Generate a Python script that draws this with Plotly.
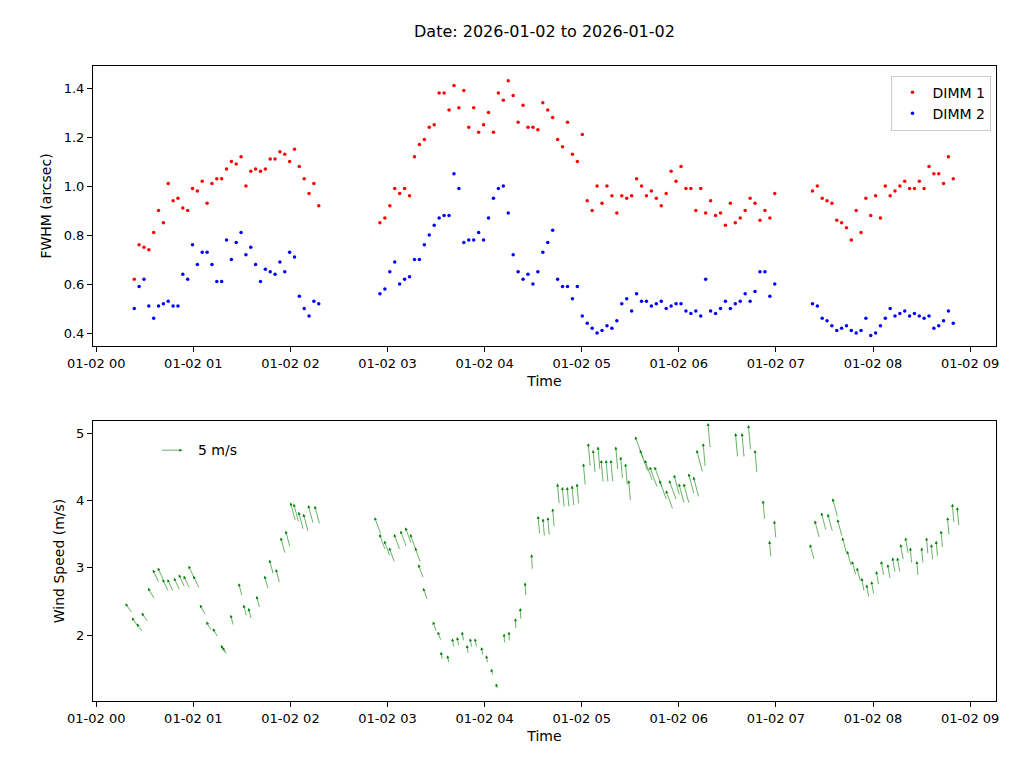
import math
import pandas as pd
import plotly.graph_objects as go

DAY = "2026-01-02"
# DIMM samples: segment start (minutes after 00:00), cadence (min), values
seg_starts = [23.5, 175.3, 442.6]
seg_steps = [3.0, 3.05, 3.0]
dimm1 = [
    [0.62,0.76,0.75,0.74,0.81,0.90,0.85,1.01,0.94,0.95,0.91,0.90,0.99,0.98,1.02,0.93,1.01,1.03,1.03,1.07,1.10,1.09,1.12,1.00,1.06,1.07,1.06,1.07,1.11,1.11,1.14,1.13,1.10,1.15,1.08,1.03,0.97,1.01,0.92],
    [0.85,0.87,0.92,0.99,0.97,0.99,0.96,1.12,1.17,1.19,1.24,1.25,1.38,1.38,1.31,1.41,1.32,1.39,1.24,1.32,1.22,1.25,1.30,1.22,1.38,1.35,1.43,1.37,1.26,1.33,1.24,1.24,1.23,1.34,1.31,1.28,1.19,1.16,1.26,1.13,1.10,1.21,
     0.94,0.90,1.00,0.93,1.00,0.96,0.89,0.96,0.95,0.96,1.03,1.00,0.96,0.98,0.95,0.92,0.97,1.06,1.02,1.08,0.99,0.99,0.90,0.99,0.89,0.94,0.88,0.89,0.84,0.93,0.85,0.87,0.90,0.95,0.93,0.86,0.90,0.87,0.97],
    [0.98,1.00,0.95,0.94,0.93,0.86,0.85,0.83,0.78,0.90,0.81,0.95,0.88,0.96,0.87,1.00,0.96,0.98,1.00,1.02,0.99,0.99,1.02,0.99,1.08,1.05,1.05,1.01,1.12,1.03],
]
dimm2 = [
    [0.50,0.59,0.62,0.51,0.46,0.51,0.52,0.53,0.51,0.51,0.64,0.62,0.76,0.68,0.73,0.73,0.68,0.61,0.61,0.78,0.70,0.77,0.81,0.72,0.75,0.68,0.61,0.66,0.65,0.64,0.69,0.65,0.73,0.71,0.55,0.50,0.47,0.53,0.52],
    [0.56,0.58,0.65,0.69,0.60,0.62,0.63,0.70,0.70,0.76,0.80,0.84,0.87,0.88,0.88,1.05,0.99,0.77,0.78,0.78,0.81,0.78,0.87,0.95,0.99,1.00,0.89,0.72,0.65,0.62,0.64,0.60,0.65,0.73,0.77,0.82,0.62,0.59,0.59,0.54,0.59,0.47,
     0.44,0.42,0.40,0.41,0.43,0.42,0.45,0.52,0.54,0.49,0.56,0.53,0.53,0.51,0.52,0.53,0.50,0.51,0.52,0.52,0.49,0.48,0.49,0.47,0.62,0.49,0.48,0.50,0.53,0.50,0.52,0.53,0.56,0.53,0.57,0.65,0.65,0.55,0.60],
    [0.52,0.51,0.46,0.45,0.43,0.41,0.42,0.43,0.41,0.40,0.41,0.46,0.39,0.40,0.43,0.46,0.50,0.47,0.48,0.49,0.47,0.48,0.47,0.46,0.47,0.42,0.43,0.45,0.49,0.44],
]
# Wind: minutes after 00:00, speed (m/s), direction (deg from up, negative = left)
wind_min = [18,22,25,28,32,35,38,41,44,48,51,54,57,60,64,68,72,77,78,83,88,91,94,99,104,107,111,114,117,120,122,125,128,131,135,
            172,175,178,181,184,188,191,194,197,199,202,208,211,213,217,220,223,226,229,231,234,238,241,244,247,252,255,259,262,265,269,273,276,279,282,285,288,291,294,297,301,304,307,310,312,315,318,321,324,327,329,333,336,339,342,345,348,352,354,357,360,363,366,369,371,375,378,381,385,389,392,395,399,403,407,412,416,419,
            441,444,448,452,455,458,461,464,467,470,473,476,479,482,485,489,492,495,497,500,503,507,510,513,516,519,522,526,529,532]
wind_spd = [2.47,2.26,2.17,2.33,2.70,2.97,3.00,2.83,2.83,2.85,2.90,2.88,3.03,2.88,2.45,2.20,2.10,1.85,1.82,2.30,2.77,2.45,2.40,2.58,2.88,3.12,2.98,3.45,3.55,3.97,3.95,3.83,3.80,3.93,3.92,
            3.75,3.50,3.40,3.30,3.50,3.55,3.60,3.50,3.30,3.05,2.70,2.20,2.05,1.75,1.70,1.95,1.97,2.05,1.85,1.95,1.95,1.82,1.70,1.50,1.28,2.02,2.05,2.25,2.40,2.78,3.20,3.77,3.73,3.75,3.88,4.25,4.20,4.20,4.22,4.25,4.55,4.85,4.75,4.80,4.60,4.60,4.60,4.80,4.65,4.55,4.30,4.95,4.75,4.60,4.50,4.50,4.30,4.15,4.30,4.38,4.25,4.25,4.40,4.35,4.75,4.85,5.15,5.25,5.25,5.20,5.20,5.00,5.00,5.12,4.75,4.00,3.40,3.70,
            3.35,3.70,3.82,3.80,4.03,3.72,3.45,3.25,3.10,3.00,2.85,2.75,2.80,2.95,3.10,3.05,3.15,3.15,3.35,3.45,3.30,3.10,3.30,3.45,3.35,3.40,3.55,3.75,3.95,3.90]
wind_dir = [-35,-35,-35,-35,-30,-25,-25,-25,-25,-25,-25,-25,-25,-25,-30,-30,-30,-30,-30,-15,-15,-15,-15,-15,-15,-15,-15,-15,-15,-15,-15,-15,-15,-15,-15,
            -20,-20,-20,-20,-20,-20,-20,-20,-20,-20,-20,-20,-20,-10,-10,-10,-10,-10,-10,-10,-10,-10,-10,-15,-15,-3,-3,-3,-3,-3,-3,-5,-5,-5,-5,-5,-5,-5,-5,-5,-5,-5,-5,-5,-5,-5,-5,-5,-5,-5,-5,-20,-20,-20,-20,-20,-20,-20,-20,-15,-15,-15,-15,-15,-15,-5,-5,-5,-5,-5,-5,-5,-5,-5,-5,-5,-5,-5,
            -15,-15,-15,-15,-15,-15,-15,-15,-15,-15,-10,-10,-10,-10,-10,-10,-10,-10,-10,-10,-5,-5,-5,-5,-5,-5,-5,-5,-5,-5]
key_speed = 5

base = pd.Timestamp(DAY)
times = []
v1 = []
v2 = []
for s0, st, a, b in zip(seg_starts, seg_steps, dimm1, dimm2):
    for i in range(len(a)):
        times.append(base + pd.Timedelta(minutes=s0 + st * i))
    v1 += a
    v2 += b
wt = [base + pd.Timedelta(minutes=m) for m in wind_min]

fig = go.Figure()
fig.add_trace(go.Scatter(x=times, y=v1, mode="markers", name="DIMM 1",
                         marker=dict(color="red", size=3.5), xaxis="x", yaxis="y"))
fig.add_trace(go.Scatter(x=times, y=v2, mode="markers", name="DIMM 2",
                         marker=dict(color="blue", size=3.5), xaxis="x", yaxis="y"))
fig.add_trace(go.Scatter(x=wt, y=wind_spd, mode="markers", showlegend=False,
                         marker=dict(color="green", size=1, opacity=0), xaxis="x2", yaxis="y2",
                         hoverinfo="skip"))
ann = []
for t, s, d in zip(wt, wind_spd, wind_dir):
    L = s * 5.0
    r = math.radians(d)
    ann.append(dict(x=t, y=s, xref="x2", yref="y2", ax=-L * math.sin(r), ay=L * math.cos(r),
                    showarrow=True, arrowhead=2, arrowsize=1.0, arrowwidth=0.6,
                    arrowcolor="green", text=""))
ann.append(dict(x=0.099, y=0.395, xref="paper", yref="paper", ax=-22, ay=0, showarrow=True,
                arrowhead=2, arrowsize=1.0, arrowwidth=0.6, arrowcolor="green", text=""))
ann.append(dict(x=0.114, y=0.395, xref="paper", yref="paper", showarrow=False,
                text=f"{key_speed} m/s", xanchor="left", font=dict(size=14)))
ann.append(dict(x=0.5, y=1.0, xref="paper", yref="paper", yshift=35, showarrow=False,
                text="Date: 2026-01-02 to 2026-01-02", font=dict(size=16), yanchor="middle"))
fig.update_layout(annotations=ann)

xr = [base - pd.Timedelta(minutes=2), base + pd.Timedelta(minutes=556)]
axcommon = dict(showline=True, linecolor="black", mirror=True, ticks="outside",
                tickcolor="black", showgrid=False, zeroline=False, automargin=False,
                tickfont=dict(size=13))
fig.update_layout(
    width=1024, height=768, template="none",
    paper_bgcolor="white", plot_bgcolor="white",
    font=dict(family="DejaVu Sans", color="black", size=13),
    margin=dict(l=85, r=36, t=58, b=75),
    showlegend=True,
    legend=dict(x=0.995, y=0.985, xanchor="right", yanchor="top", bordercolor="#cccccc",
                borderwidth=1, font=dict(size=14), bgcolor="white"),
    xaxis=dict(domain=[0, 1], anchor="y", range=xr, tickformat="%m-%d %H", dtick=3600000,
               title=dict(text="Time", standoff=6, font=dict(size=14)), **axcommon),
    yaxis=dict(domain=[0.559, 1], anchor="x", range=[0.347, 1.49], dtick=0.2, tickformat=".1f",
               title=dict(text="FWHM (arcsec)", standoff=8, font=dict(size=14)), **axcommon),
    xaxis2=dict(domain=[0, 1], anchor="y2", range=xr, tickformat="%m-%d %H", dtick=3600000,
                title=dict(text="Time", standoff=6, font=dict(size=14)), **axcommon),
    yaxis2=dict(domain=[0, 0.441], anchor="x2", range=[1.02, 5.18], dtick=1,
                title=dict(text="Wind Speed (m/s)", standoff=8, font=dict(size=14)), **axcommon),
)
fig.write_html("out.html")
